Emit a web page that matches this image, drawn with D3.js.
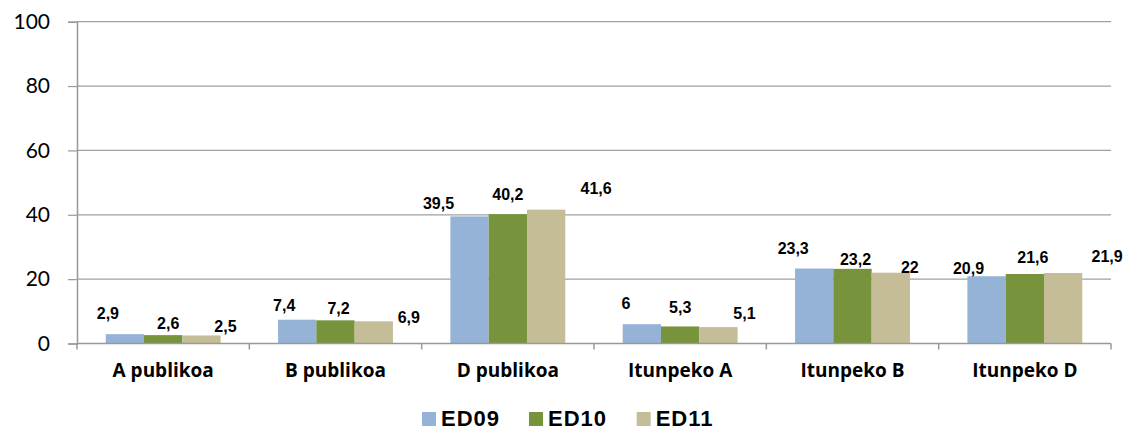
<!DOCTYPE html>
<html><head><meta charset="utf-8">
<script src="https://cdn.jsdelivr.net/npm/d3@7"></script>
<style>body{margin:0;background:#fff}svg{display:block}</style>
</head><body><svg id="c" width="1128" height="432"></svg>
<script>
const categories = ["A publikoa","B publikoa","D publikoa","Itunpeko A","Itunpeko B","Itunpeko D"];
const seriesNames = ["ED09","ED10","ED11"];
const ed09 = [2.9, 7.4, 39.5, 6, 23.3, 20.9];
const ed10 = [2.6, 7.2, 40.2, 5.3, 23.2, 21.6];
const ed11 = [2.5, 6.9, 41.6, 5.1, 22, 21.9];
const yTicks = [0, 20, 40, 60, 80, 100];
const colors = ["#95B3D7", "#77933C", "#C4BD97"];
// label nudges (px, relative to bar centre / top) as placed in the original
const labelNudge = [
  [[-17,-21],[-13,-14],[-31,-13],[-16,-21],[-21,-20],[-18,-8]],
  [[5,-12],[3,-12],[0,-20],[0,-19],[3,-9],[8,-17]],
  [[24,-9],[35,-4],[50,-21],[26,-14],[19,-5],[44,-17]]
];
const values = [ed09, ed10, ed11];
const fmt = v => String(v).replace(".", ",");

const svg = d3.select("#c");
const m = {l: 77, r: 1111, t: 21.7, b: 343.5};
const x = d3.scaleBand().domain(categories).range([m.l, m.r]).paddingInner(0).paddingOuter(0);
const x1 = d3.scaleBand().domain(seriesNames).range([0, x.bandwidth()]).paddingInner(0).paddingOuter(0.75);
const y = d3.scaleLinear().domain([0, 100]).range([m.b, m.t]);

// gridlines
svg.append("g").selectAll("line").data(yTicks.filter(t => t > 0)).join("line")
  .attr("x1", m.l).attr("x2", m.r).attr("y1", d => y(d)).attr("y2", d => y(d))
  .attr("stroke", "#a0a0a0").attr("stroke-width", 1.2);

// y axis
const yAxis = svg.append("g").attr("transform", `translate(${m.l},0)`)
  .call(d3.axisLeft(y).tickValues(yTicks).tickSize(9).tickPadding(18));
yAxis.select(".domain").attr("stroke", "#999").attr("stroke-width", 1.5);
yAxis.selectAll(".tick line").attr("stroke", "#999").attr("stroke-width", 1.2);
yAxis.selectAll("text").attr("font-family", "Lato, 'Open Sans', sans-serif")
  .attr("font-size", 21).attr("fill", "#000");

// bars
const g = svg.append("g");
values.forEach((vals, si) => {
  g.selectAll(null).data(categories).join("rect")
    .attr("x", c => x(c) + x1(seriesNames[si]))
    .attr("width", x1.bandwidth())
    .attr("y", (c, i) => y(vals[i]))
    .attr("height", (c, i) => y(0) - y(vals[i]))
    .attr("fill", colors[si]);
});

// x axis
const xAxisLine = svg.append("g");
xAxisLine.append("line").attr("x1", m.l).attr("x2", m.r).attr("y1", m.b).attr("y2", m.b)
  .attr("stroke", "#999").attr("stroke-width", 1.5);
const bounds = categories.map(c => x(c)).concat([x(categories[categories.length-1]) + x.bandwidth()]);
xAxisLine.selectAll("line.t").data(bounds).join("line").attr("class", "t")
  .attr("x1", d => d).attr("x2", d => d).attr("y1", m.b).attr("y2", m.b + 6)
  .attr("stroke", "#999").attr("stroke-width", 1.5);
svg.append("g").selectAll("text").data(categories).join("text")
  .attr("x", c => x(c) + x.bandwidth() / 2).attr("y", 377)
  .attr("text-anchor", "middle")
  .attr("font-family", "'Open Sans', Lato, sans-serif").attr("font-weight", "bold").attr("font-size", 19)
  .attr("fill", "#000").text(d => d);

// data labels
values.forEach((vals, si) => {
  svg.append("g").selectAll("text").data(categories).join("text")
    .attr("x", (c, i) => x(c) + x1(seriesNames[si]) + x1.bandwidth() / 2 + labelNudge[si][i][0])
    .attr("y", (c, i) => y(vals[i]) + labelNudge[si][i][1])
    .attr("dy", "0.35em")
    .attr("text-anchor", "middle")
    .attr("font-family", "'Liberation Sans', Arial, sans-serif").attr("font-weight", "bold")
    .attr("font-size", 16).attr("fill", "#000")
    .text((c, i) => fmt(vals[i]));
});

// legend
const legendX = [422, 529, 636.7];
const lg = svg.append("g");
seriesNames.forEach((s, i) => {
  lg.append("rect").attr("x", legendX[i]).attr("y", 412).attr("width", 14).attr("height", 14).attr("fill", colors[i]);
  lg.append("text").attr("x", legendX[i] + 19).attr("y", 418.5).attr("dy", "0.35em")
    .attr("font-family", "'Liberation Sans', Arial, sans-serif").attr("font-weight", "bold")
    .attr("font-size", 22).attr("letter-spacing", 1).attr("fill", "#000").text(s);
});
</script></body></html>
